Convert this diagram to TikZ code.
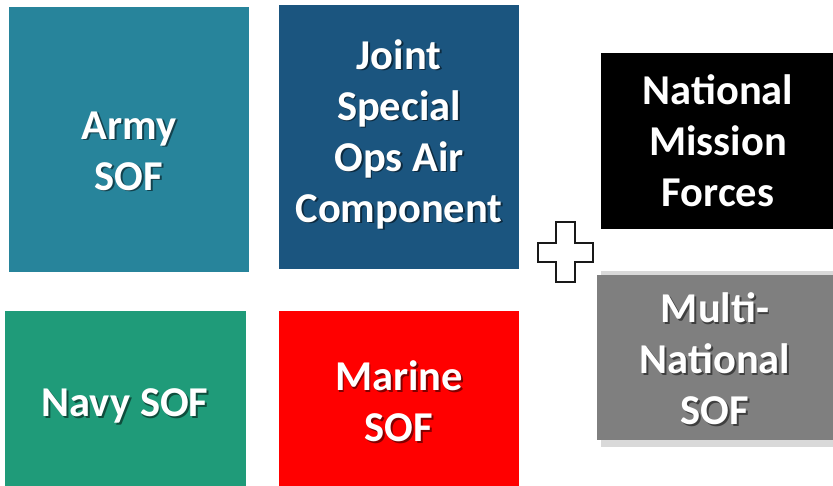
\documentclass[tikz,border=0pt]{standalone}
\usepackage{fontspec}
\setmainfont{Carlito}
\definecolor{armyteal}{HTML}{27849B}
\definecolor{jsoacblue}{HTML}{1B557F}
\definecolor{navygreen}{HTML}{1F9B79}
\definecolor{marinered}{HTML}{FF0000}
\definecolor{mnsgray}{HTML}{7F7F7F}
\definecolor{mnsshade}{HTML}{D9D9D9}
\tikzset{
  lbl/.style={text=white, font=\bfseries\fontsize{42.5}{51}\selectfont,
    align=center, inner sep=0pt},
  lblshadow/.style={lbl, text=black, opacity=0.5, xshift=1.8pt, yshift=-1.8pt}
}
\newcommand*{\BoxLabel}[3]{%
   \node[lblshadow] (#1-sh) at #2 {#3};
   \node[lbl] (#1) at #2 {#3};}

\begin{document}
\begin{tikzpicture}[x=1pt, y=-1pt]
            \useasboundingbox (0,0) rectangle (833,486);
            % service components
            \fill[armyteal] (9,7) rectangle (249,272);
            \fill[jsoacblue] (279,5) rectangle (519,269);
            \fill[navygreen] (5,311) rectangle (246,486);
            \fill[marinered] (279,311) rectangle (519,486);
            % national and multi-national forces
            \fill[black] (601,53) rectangle (833,229);
            \fill[mnsshade] (601,271) rectangle (833,447);
            \fill[mnsgray] (597,275) rectangle (833,440);
            % plus sign
            \draw[line width=2.2pt, line join=miter, black!90]
              (556,222) -- (575,222) -- (575,243) -- (593,243) -- (593,262)
              -- (575,262) -- (575,282) -- (556,282) -- (556,262) -- (538,262)
              -- (538,243) -- (556,243) -- cycle;
            % labels
            \BoxLabel{army}{(129,151)}{Army\\SOF}
            \BoxLabel{jsoac}{(399,134)}{Joint\\Special\\Ops Air\\Component}
            \BoxLabel{nmf}{(718,141)}{National\\Mission\\Forces}
            \BoxLabel{mns}{(715,359)}{Multi-\\National\\SOF}
            \BoxLabel{navy}{(125,406)}{Navy SOF}
            \BoxLabel{marine}{(399,401)}{Marine\\SOF}
          \end{tikzpicture}
\end{document}
